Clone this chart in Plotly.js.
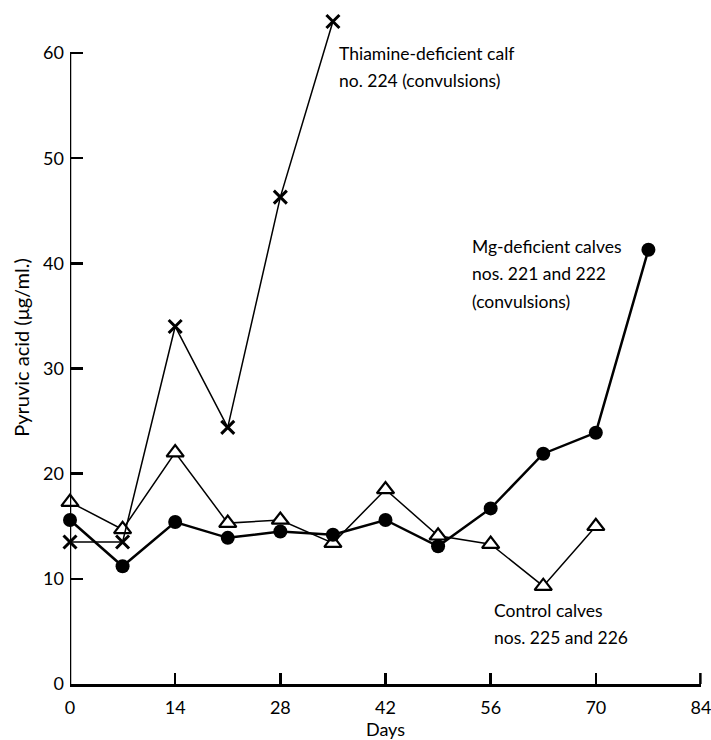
<!DOCTYPE html>
<html>
<head>
<meta charset="utf-8">
<script src="https://cdn.plot.ly/plotly-3.0.1.min.js"></script>
<style>html,body{margin:0;padding:0;background:#fff;}#chart{width:711px;height:740px;}</style>
</head>
<body>
<div id="chart"></div>
<script>
// Data
const thiamineDays = [0, 7, 14, 21, 28, 35];
const thiamineValues = [13.5, 13.5, 34.0, 24.4, 46.3, 63.0];

const mgDays = [0, 7, 14, 21, 28, 35, 42, 49, 56, 63, 70, 77];
const mgValues = [15.6, 11.2, 15.4, 13.9, 14.5, 14.2, 15.6, 13.1, 16.7, 21.9, 23.9, 41.3];

const controlDays = [0, 7, 14, 21, 28, 35, 42, 49, 56, 63, 70];
const controlValues = [17.3, 14.7, 22.0, 15.3, 15.6, 13.4, 18.5, 14.1, 13.3, 9.3, 15.0];

const xTicks = [0, 14, 28, 42, 56, 70, 84];
const yTicks = [0, 10, 20, 30, 40, 50, 60];
const yAxisTop = 60;

const labelLines = [
  {text: "Thiamine-deficient calf", x: 35.6, y: 60.0},
  {text: "no. 224 (convulsions)", x: 35.6, y: 57.4},
  {text: "Mg-deficient calves", x: 53.2, y: 41.6},
  {text: "nos. 221 and 222", x: 53.2, y: 39.0},
  {text: "(convulsions)", x: 53.2, y: 36.4},
  {text: "Control calves", x: 56.2, y: 7.0},
  {text: "nos. 225 and 226", x: 56.2, y: 4.4}
];

const FONT = "Lato, 'Open Sans', sans-serif";

const traces = [
  {
    x: controlDays, y: controlValues, type: "scatter", mode: "lines+markers",
    line: {color: "#000", width: 1.5},
    marker: {symbol: "triangle-up", size: 15, color: "#fff", line: {color: "#000", width: 2.2}},
    cliponaxis: false, showlegend: false
  },
  {
    x: thiamineDays, y: thiamineValues, type: "scatter", mode: "lines+markers",
    line: {color: "#000", width: 1.5},
    marker: {symbol: "x-thin-open", size: 13, color: "#000", line: {color: "#000", width: 3}},
    cliponaxis: false, showlegend: false
  },
  {
    x: mgDays, y: mgValues, type: "scatter", mode: "lines+markers",
    line: {color: "#000", width: 2.5},
    marker: {symbol: "circle", size: 14, color: "#000"},
    cliponaxis: false, showlegend: false
  }
];

const layout = {
  width: 711, height: 740,
  margin: {l: 70, r: 10, t: 11, b: 56},
  paper_bgcolor: "#fff", plot_bgcolor: "#fff",
  font: {family: FONT, size: 17, color: "#000"},
  xaxis: {
    range: [0, 84], tickvals: xTicks, ticktext: xTicks.map(String),
    showgrid: false, zeroline: false, showline: true, linecolor: "#000", linewidth: 2.5,
    ticks: "inside", ticklen: 11, tickwidth: 2.5, tickcolor: "#000",
    tickfont: {family: FONT, size: 18, color: "#000"},
    ticklabelstandoff: 6, ticklabeloverflow: "allow",
    title: {text: "Days", font: {family: FONT, size: 18, color: "#000"}, standoff: 6},
    fixedrange: true
  },
  yaxis: {
    range: [0, 64], tickvals: yTicks, ticktext: yTicks.map(String),
    showgrid: false, zeroline: false, showline: false,
    ticks: "inside", ticklen: 13, tickwidth: 2.5, tickcolor: "#000",
    tickfont: {family: FONT, size: 18, color: "#000"},
    ticklabelstandoff: 5, ticklabeloverflow: "allow",
    title: {text: "Pyruvic acid (μg/ml.)", font: {family: FONT, size: 20, color: "#000"}, standoff: 8},
    fixedrange: true
  },
  shapes: [
    {type: "line", xref: "x", yref: "y", x0: 0, x1: 0, y0: 0, y1: yAxisTop,
     line: {color: "#000", width: 2.5}, layer: "above"},
    // end tick at the right end of the x axis
    {type: "line", xref: "paper", yref: "paper", x0: 0.999, x1: 0.999,
     ysizemode: "pixel", yanchor: 0, y0: 0, y1: 11,
     line: {color: "#000", width: 2.5}, layer: "above"}
  ],
  annotations: labelLines.map(l => ({
    text: l.text, x: l.x, y: l.y, xref: "x", yref: "y",
    xanchor: "left", yanchor: "middle", showarrow: false,
    font: {family: FONT, size: 17.5, color: "#000"}
  }))
};

Plotly.newPlot("chart", traces, layout, {displayModeBar: false, staticPlot: true});
</script>
</body>
</html>
